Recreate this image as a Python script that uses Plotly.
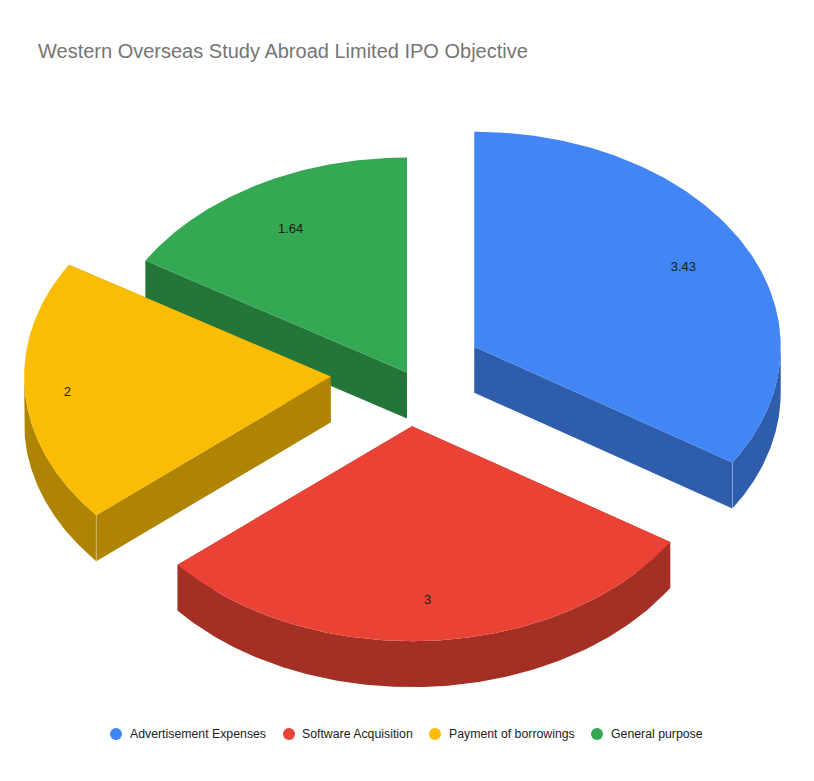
import numpy as np
import plotly.graph_objects as go

# --- data ---
categories = ["Advertisement Expenses", "Software Acquisition", "Payment of borrowings", "General purpose"]
values = [3.43, 3, 2, 1.64]
value_labels = ["3.43", "3", "2", "1.64"]
title_text = "Western Overseas Study Abroad Limited IPO Objective"

# --- style ---
top_colors = ["#4285F4", "#EA4335", "#FBBC04", "#34A853"]
wall_colors = ["#2E5DAB", "#A42F25", "#B08403", "#24753A"]
explode = [0.25, 0.25, 0.25, 0.0]       # fraction of the radius
label_radius = [0.78, 0.806, 0.86, 0.772]
draw_order = [3, 0, 2, 1]
legend_marker_x = [116, 289, 435, 597]
legend_text_x = [130, 302, 449, 611]
CX, CY, RX, RY, DEPTH = 407.0, 372.5, 306.5, 215.0, 46.0
W, H = 814, 781


def point(angle, radius=1.0, apex=(CX, CY)):
    return (apex[0] + RX * radius * np.sin(angle), apex[1] - RY * radius * np.cos(angle))


fractions = np.array(values) / sum(values)
edges = np.concatenate([[0], np.cumsum(fractions)]) * 2 * np.pi

fig = go.Figure()


def poly(xs, ys, color):
    fig.add_trace(go.Scatter(x=xs, y=ys, mode="lines", fill="toself", fillcolor=color,
                             line=dict(width=0, color=color), hoverinfo="skip", showlegend=False))


for i in draw_order:
    a0, a1 = edges[i], edges[i + 1]
    mid = (a0 + a1) / 2
    apex = point(mid, explode[i])
    t = np.linspace(a0, a1, 160)
    ax, ay = point(t, 1.0, apex)

    # radial walls
    for a in (a0, a1):
        ex, ey = point(a, 1.0, apex)
        poly([apex[0], ex, ex, apex[0], apex[0]],
             [apex[1], ey, ey + DEPTH, apex[1] + DEPTH, apex[1]], wall_colors[i])
    # outer wall: only the front half of the rim faces the viewer
    w0, w1 = max(a0, np.pi / 2), min(a1, 3 * np.pi / 2)
    if w1 > w0:
        wt = np.linspace(w0, w1, 160)
        wx, wy = point(wt, 1.0, apex)
        poly(np.concatenate([wx, wx[::-1], wx[:1]]),
             np.concatenate([wy, wy[::-1] + DEPTH, wy[:1]]), wall_colors[i])
    # top face
    poly(np.concatenate([[apex[0]], ax, [apex[0]]]),
         np.concatenate([[apex[1]], ay, [apex[1]]]), top_colors[i])
    # light corner edge where radial wall meets outer wall
    for a in (a0, a1):
        ex, ey = point(a, 1.0, apex)
        s, c = np.sin(a), np.cos(a)
        if c < 0 and ((a == a1 and s > 0) or (a == a0 and s < 0)):
            fig.add_trace(go.Scatter(x=[ex, ex], y=[ey, ey + DEPTH], mode="lines",
                                     line=dict(width=1, color="rgba(255,255,255,0.3)"),
                                     hoverinfo="skip", showlegend=False))

# value labels
for i in range(len(values)):
    mid = (edges[i] + edges[i + 1]) / 2
    apex = point(mid, explode[i])
    lx, ly = point(mid, label_radius[i], apex)
    fig.add_trace(go.Scatter(x=[lx - 0.5], y=[ly + 2], mode="text", text=[value_labels[i]],
                             textposition="middle center",
                             textfont=dict(family="Liberation Sans, Arial", size=13, color="#1a1a1a"),
                             hoverinfo="skip", showlegend=False))

# legend row
for i, cat in enumerate(categories):
    fig.add_trace(go.Scatter(x=[legend_marker_x[i]], y=[734], mode="markers", name=cat,
                             marker=dict(size=12, color=top_colors[i]),
                             hoverinfo="name", showlegend=False))
    fig.add_trace(go.Scatter(x=[legend_text_x[i]], y=[735], mode="text", text=[cat],
                             textposition="middle right",
                             textfont=dict(family="Liberation Sans, Arial", size=12.3, color="#222222"),
                             hoverinfo="skip", showlegend=False))

fig.update_layout(
    width=W, height=H, autosize=False,
    margin=dict(l=0, r=0, t=0, b=0),
    paper_bgcolor="white", plot_bgcolor="white",
    title=dict(text=title_text, x=38 / W, xanchor="left", y=1 - 51 / H, yanchor="middle",
               font=dict(family="Liberation Sans, Arial", size=20, color="#757575")),
    xaxis=dict(range=[0, W], visible=False, fixedrange=True),
    yaxis=dict(range=[H, 0], visible=False, fixedrange=True),
)
fig.write_html("out.html", config={"displayModeBar": False},
               post_script="document.body.style.margin='0';")
